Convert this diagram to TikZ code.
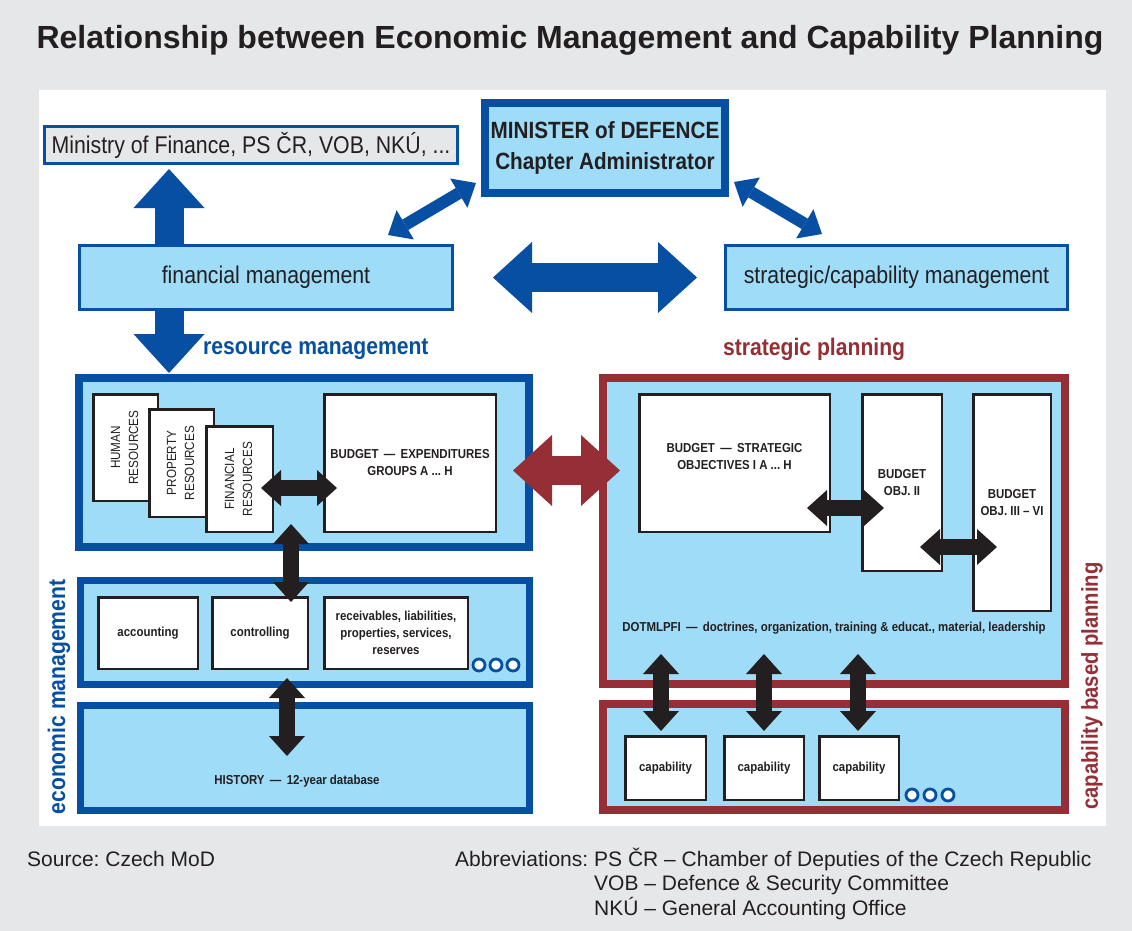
\documentclass[tikz,border=0pt]{standalone}
\usepackage{fontspec}
\setmainfont{Liberation Sans}
\newfontfamily\narrowsf[FakeStretch=0.88]{Liberation Sans}
\usetikzlibrary{arrows.meta,positioning,calc}

\definecolor{mblue}{RGB}{6,79,162}
\definecolor{lblue}{RGB}{158,220,247}
\definecolor{mred}{RGB}{150,46,54}
\definecolor{ink}{RGB}{35,31,32}
\definecolor{bggray}{RGB}{230,231,233}
\newcommand{\fsz}[2]{\fontsize{#1}{#2}\selectfont}
\frenchspacing

\tikzset{
    bigtip/.tip={Triangle[length=39pt, width=71pt, line width=0pt]},
    diagtip/.tip={Triangle[length=20pt, width=34pt, line width=0pt]},
    blktip/.tip={Triangle[length=20pt, width=36pt, line width=0pt]}
}

\begin{document}
\begin{tikzpicture}[x=1pt, y=-1pt,
    wall/.style={rectangle, fill=lblue, inner sep=0pt, text=ink},
    thinwall/.style={wall, draw=mblue, line width=3pt, align=center, font=\narrowsf\fsz{24.2}{28}},
    bluewall/.style={wall, draw=mblue, line width=8pt},
    redwall/.style={wall, draw=mred, line width=8pt},
    card/.style={rectangle, draw=ink, fill=white, line width=2.5pt, inner sep=0pt, align=center, text=ink, font=\narrowsf\bfseries\fsz{13}{17}},
    rescard/.style={card, font=\narrowsf\fsz{13.3}{18}},
    tag/.style={font=\narrowsf\bfseries\fsz{24}{28}, inner sep=0pt},
    note/.style={font=\narrowsf\bfseries\fsz{13}{17}, text=ink, inner sep=0pt},
    ring/.style={draw=mblue, fill=white, line width=2.8pt},
    bigarr/.style={draw=mblue, line width=29pt, bigtip-bigtip},
    bigup/.style={draw=mblue, line width=29pt, -bigtip},
    diagarr/.style={draw=mblue, line width=12pt, diagtip-diagtip},
    redarr/.style={draw=mred, line width=29pt, bigtip-bigtip},
    blkarr/.style={draw=ink, line width=16pt, blktip-blktip}
]
    % background and panel
    \path[use as bounding box, fill=bggray] (0,0) rectangle (1132,931);
    \fill[white] (39,90) rectangle (1106,826);

    \node[font=\bfseries\fsz{32}{36}, text=ink] (title) at (570,40) {Relationship between Economic Management and Capability Planning};

    % top level
    \node[thinwall, fill=bggray, minimum width=413pt, minimum height=37pt] (mof) at (251,145) {Ministry of Finance, PS ČR, VOB, NKÚ, ...};
    \node[bluewall, align=center, font=\narrowsf\bfseries\fsz{23.5}{31}, minimum width=240pt, minimum height=90pt] (mod) at (605,148) {MINISTER of DEFENCE\\Chapter Administrator};
    \node[thinwall, minimum width=373pt, minimum height=64pt] (fm) at (266,277.5) {financial management};
    \node[thinwall, minimum width=342pt, minimum height=64pt] (scm) at (896.5,277.5) {strategic/capability management};

    \node[tag, text=mblue, anchor=west] (rmlabel) at (203,349) {resource management};
    \node[tag, text=mred, anchor=west] (splabel) at (723,349) {strategic planning};

    % resource management
    \node[bluewall, minimum width=450pt, minimum height=169pt] (rb) at (304,462.5) {};
    \node[rescard, minimum width=64.5pt, minimum height=106.5pt] (hr) at (125.5,447.5) {\rotatebox{90}{\begin{tabular}{@{}c@{}}HUMAN\\RESOURCES\end{tabular}}};
    \node[rescard, minimum width=64.5pt, minimum height=107.5pt] (pr) at (181.5,463) {\rotatebox{90}{\begin{tabular}{@{}c@{}}PROPERTY\\RESOURCES\end{tabular}}};
    \node[rescard, minimum width=66.5pt, minimum height=105.5pt] (fr) at (239.5,479) {\rotatebox{90}{\begin{tabular}{@{}c@{}}FINANCIAL\\RESOURCES\end{tabular}}};
    \node[card, minimum width=171.5pt, minimum height=137.5pt] (be) at (410,463) {BUDGET \,—\, EXPENDITURES\\GROUPS A ... H};

    % economic management
    \node[bluewall, line width=7pt, minimum width=449pt, minimum height=104pt] (eb1) at (305,632.5) {};
    \node[card, minimum width=99.5pt, minimum height=71.5pt] (acc) at (148,633) {accounting};
    \node[card, minimum width=95.5pt, minimum height=71.5pt] (ctl) at (260,633) {controlling};
    \node[card, minimum width=143.5pt, minimum height=71.5pt] (rec) at (396,633) {receivables, liabilities,\\properties, services,\\reserves};
    \foreach \cx in {479,496,513} \draw[ring] (\cx,665) circle[radius=6];
    \node[bluewall, line width=7pt, minimum width=449pt, minimum height=105pt] (eb2) at (305,758) {};
    \node[note] (hist) at (297,781) {HISTORY \,—\, 12-year database};
    \node[tag, text=mblue, rotate=90] (emlabel) at (59,697) {economic management};

    % strategic planning
    \node[redwall, minimum width=462pt, minimum height=306pt] (spb) at (834,531) {};
    \node[card, minimum width=190.5pt, minimum height=137.5pt] (so1) at (734.5,463) {BUDGET \,—\, STRATEGIC\\OBJECTIVES I A ... H\\[-4pt]};
    \node[card, minimum width=79.5pt, minimum height=176.5pt] (so2) at (902,482.5) {BUDGET\\OBJ. II};
    \node[card, minimum width=77.5pt, minimum height=216.5pt] (so3) at (1012,502.5) {BUDGET\\OBJ. III – VI};
    \node[note] (dotm) at (834,628) {DOTMLPFI \,—\, doctrines, organization, training \& educat., material, leadership};

    % capability based planning
    \node[redwall, minimum width=462pt, minimum height=106pt] (cpb) at (834,757) {};
    \node[card, minimum width=80.5pt, minimum height=63.5pt] (cap1) at (665.5,768) {capability};
    \node[card, minimum width=79.5pt, minimum height=63.5pt] (cap2) at (764,768) {capability};
    \node[card, minimum width=79.5pt, minimum height=63.5pt] (cap3) at (859,768) {capability};
    \foreach \cx in {912,930,948} \draw[ring] (\cx,795) circle[radius=6];
    \node[tag, text=mred, font=\narrowsf\bfseries\fsz{23}{28}, rotate=90] (cplabel) at (1092,686) {capability based planning};

    % blue arrows
    \draw[bigup, shorten >=4pt] ([xshift=-97pt]fm.north) -- ([xshift=-82pt]mof.south);
    \draw[bigup, shorten >=1pt] ([xshift=-97pt]fm.south) -- ([xshift=-135pt]rb.north);
    \draw[bigarr, shorten <=39pt, shorten >=27pt] (fm.east) -- (scm.west);
    \draw[diagarr] ([xshift=122pt, yshift=9pt]fm.north) -- ([xshift=-5pt, yshift=-35pt]mod.west);
    \draw[diagarr] ([xshift=5pt, yshift=-34pt]mod.east) -- ([xshift=-74.5pt, yshift=10pt]scm.north);

    % red arrow
    \draw[redarr, shorten <=-20pt, shorten >=-21pt] ([yshift=-8pt]rb.east) -- ([yshift=-8pt]rb.east -| spb.west);

    % black arrows
    \draw[blkarr, shorten <=-13pt, shorten >=-14pt] ([yshift=-9pt]fr.east) -- ([yshift=-9pt]fr.east -| be.west);
    \draw[blkarr, shorten <=-6pt, shorten >=-27pt] ([xshift=31pt]ctl.north) -- ([xshift=31pt]ctl.north |- rb.south);
    \draw[blkarr, shorten <=-10pt, shorten >=-54pt] ([xshift=-18pt]eb1.south) -- ([xshift=-18pt]eb1.south |- eb2.north);
    \draw[blkarr, shorten <=-24pt, shorten >=-23pt] ([yshift=-45pt]so1.east) -- ([yshift=-45pt]so1.east -| so2.west);
    \draw[blkarr, shorten <=-23pt, shorten >=-25pt] ([yshift=-64.5pt]so2.east) -- ([yshift=-64.5pt]so2.east -| so3.west);
    \draw[blkarr, shorten <=4pt, shorten >=-34pt] ([xshift=-4.5pt]cap1.north) -- ([xshift=-4.5pt]cap1.north |- spb.south);
    \draw[blkarr, shorten <=4pt, shorten >=-34pt] (cap2.north) -- (cap2.north |- spb.south);
    \draw[blkarr, shorten <=4pt, shorten >=-34pt] ([xshift=-1pt]cap3.north) -- ([xshift=-1pt]cap3.north |- spb.south);

    % source and abbreviations
    \node[font=\fsz{21}{24}, text=ink, anchor=base west, inner sep=0pt] (src) at (27,866) {Source: Czech MoD};
    \node[font=\fsz{21}{24}, text=ink, anchor=base west, inner sep=0pt] (abbr) at (455,866) {\begin{tabular}[t]{@{}p{139pt}@{}l@{}}Abbreviations: & PS ČR – Chamber of Deputies of the Czech Republic\\ & VOB – Defence \& Security Committee\\ & NKÚ – General Accounting Office\end{tabular}};
\end{tikzpicture}
\end{document}
